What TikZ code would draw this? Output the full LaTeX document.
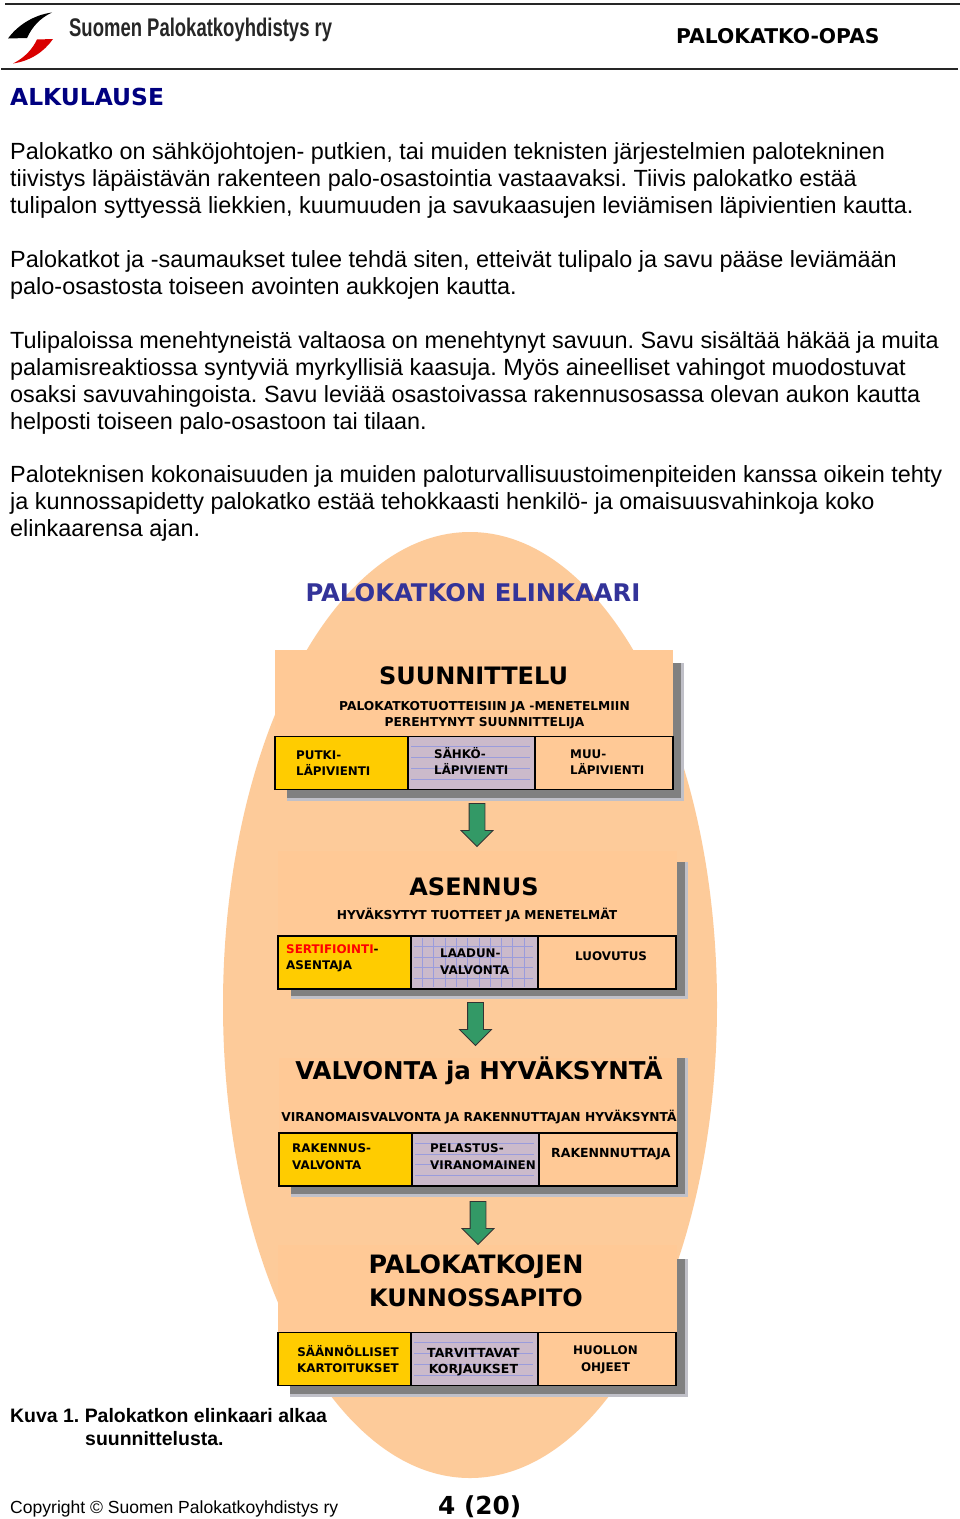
\documentclass[tikz,border=0pt]{standalone}
\usepackage{fontspec}
\setmainfont{Liberation Sans}
\newfontfamily\headfont{DejaVu Sans}
\usetikzlibrary{shapes.geometric, shapes.arrows, positioning}
\definecolor{peach}{HTML}{FFC996}
\definecolor{oval}{HTML}{FDCB9A}
\definecolor{gold}{HTML}{FFCC00}
\definecolor{lilac}{HTML}{CBBACB}
\definecolor{gridblue}{HTML}{9A9CDC}
\definecolor{shadowgray}{HTML}{808080}
\definecolor{shadowlight}{HTML}{C0C0C8}
\definecolor{arrowgreen}{HTML}{339966}
\tikzset{
bodytext/.style={anchor=north west, inner sep=0pt, align=left,
font=\frenchspacing\fontsize{23.42}{27}\selectfont},
title/.style={inner sep=0pt, align=center, font=\headfont\bfseries\fontsize{24}{33}\selectfont},
subtitle/.style={inner sep=0pt, align=center, font=\headfont\bfseries\fontsize{12.25}{16.5}\selectfont},
celltext/.style={inner sep=0pt, align=left, font=\headfont\bfseries\fontsize{11.9}{16.5}\selectfont},
cell/.style={rectangle, anchor=north west, inner sep=0pt, outer sep=0pt, draw=black, line width=1.1pt, minimum height=53},
goldcell/.style={cell, fill=gold, minimum width=133},
gridcell/.style={cell, fill=lilac, minimum width=127},
plaincell/.style={cell, fill=peach, minimum width=138},
flow/.style={single arrow, shape border rotate=270, draw=black!80, fill=arrowgreen, line width=0.8pt,
minimum width=31, minimum height=43, single arrow head extend=8, single arrow tip angle=90, inner sep=7.5pt}
}
% back of a panel: grey shadow with light edge
\newcommand{\panelshadow}[4]{
\fill [shadowlight] (#1,#2) rectangle (#3+11,#4+11);
\fill [shadowgray] (#1,#2) rectangle (#3+8,#4+8);
}
\begin{document}
\begin{tikzpicture}[x=1pt, y=-1pt]
\useasboundingbox (0,0) rectangle (960,1519);
\fill [white] (0,0) rectangle (960,1519);

% page head
\draw [line width=1.3pt, black!85] (5,4) -- (960,4);
\draw [line width=1.3pt, black!85] (1,69) -- (958,69);
\fill [black] (52,12.5) .. controls (33,15) and (17,26) .. (8,38.5) -- (27,38) .. controls (32,27) and (40,18) .. (52,12.5) -- cycle;
\fill [red!85!black] (53,39) -- (37,39.5) .. controls (32,50) and (24,58) .. (13,63.5) .. controls (30,61) and (44,52) .. (53,39) -- cycle;
\node (logotext) [inner sep=0pt, anchor=west, xscale=.725, transform shape, font=\bfseries\fontsize{25.5}{30}\selectfont, black!85] at (69,30) {Suomen Palokatkoyhdistys ry};
\node (guide) [anchor=west, inner sep=0pt, font=\headfont\bfseries\fontsize{20.3}{24}\selectfont] at (676,36) {PALOKATKO-OPAS};
\node (chapter) [anchor=west, inner sep=0pt, text=blue!50!black, font=\headfont\bfseries\fontsize{23.4}{28}\selectfont] at (10,97) {ALKULAUSE};

% text
\node (para1) [bodytext] at (10,142) {Palokatko on sähköjohtojen- putkien, tai muiden teknisten järjestelmien palotekninen\\
tiivistys läpäistävän rakenteen palo-osastointia vastaavaksi. Tiivis palokatko estää\\
tulipalon syttyessä liekkien, kuumuuden ja savukaasujen leviämisen läpivientien kautta.};
\node (para2) [bodytext] at (10,250) {Palokatkot ja -saumaukset tulee tehdä siten, etteivät tulipalo ja savu pääse leviämään\\
palo-osastosta toiseen avointen aukkojen kautta.};
\node (para3) [bodytext] at (10,331) {Tulipaloissa menehtyneistä valtaosa on menehtynyt savuun. Savu sisältää häkää ja muita\\
palamisreaktiossa syntyviä myrkyllisiä kaasuja. Myös aineelliset vahingot muodostuvat\\
osaksi savuvahingoista. Savu leviää osastoivassa rakennusosassa olevan aukon kautta\\
helposti toiseen palo-osastoon tai tilaan.};
\node (para4) [bodytext] at (10,465) {Paloteknisen kokonaisuuden ja muiden paloturvallisuustoimenpiteiden kanssa oikein tehty\\
ja kunnossapidetty palokatko estää tehokkaasti henkilö- ja omaisuusvahinkoja koko\\
elinkaarensa ajan.};

% oval
\node (oval) [ellipse, fill=oval, inner sep=0pt, minimum width=494, minimum height=946] at (470,1005) {};
\node (cycle) [inner sep=0pt, text={rgb,255:red,51;green,51;blue,153}, font=\headfont\bfseries\fontsize{24.3}{28}\selectfont] at (473,593) {PALOKATKON ELINKAARI};

% shadows and panels
\panelshadow{287}{663}{673}{790}
\panelshadow{291}{862}{677}{988}
\panelshadow{291}{1058}{677}{1186}
\panelshadow{290}{1259}{677}{1386}
\fill [peach] (275,650) rectangle (673,736);
\fill [peach] (278,851) rectangle (677,936);
\fill [peach] (279,1058) rectangle (677,1133);
\fill [peach] (278,1245) rectangle (677,1332);

% rows of cells
\node (pipe) [goldcell] at (275,736.5) {};
\node (cable) [gridcell, right=0pt of pipe] {};
\node (other) [plaincell, right=0pt of cable] {};
\node (fitter) [goldcell] at (278,936) {};
\node (quality) [gridcell, right=0pt of fitter] {};
\node (handover) [plaincell, right=0pt of quality] {};
\node (building) [goldcell] at (279,1133) {};
\node (rescue) [gridcell, right=0pt of building] {};
\node (client) [plaincell, right=0pt of rescue] {};
\node (surveys) [goldcell] at (278,1332.5) {};
\node (repairs) [gridcell, right=0pt of surveys] {};
\node (service) [plaincell, right=0pt of repairs] {};

% grid lines of the middle cells
\foreach \c in {cable, quality, rescue, repairs}
\foreach \i in {1,...,4}
\draw [gridblue, line width=.5pt] ([xshift=3pt,yshift=\i*10.7pt]\c.south west) -- ([xshift=-5pt,yshift=\i*10.7pt]\c.south east);
\foreach \i in {1,...,10}
\draw [gridblue, line width=.5pt] ([xshift=\i*11.3pt,yshift=-2pt]quality.north west) -- ([xshift=\i*11.3pt,yshift=2pt]quality.south west);

% texts of the panels
\node (plan) [title] at (473.5,676) {SUUNNITTELU};
\node (planSub) [subtitle] at (484.5,715) {PALOKATKOTUOTTEISIIN JA -MENETELMIIN\\PEREHTYNYT SUUNNITTELIJA};
\node (pipeText) [celltext, right=21pt of pipe.west] {PUTKI-\\LÄPIVIENTI};
\node (cableText) [celltext, right=26pt of cable.west, yshift=2pt] {SÄHKÖ-\\LÄPIVIENTI};
\node (otherText) [celltext, right=35pt of other.west, yshift=1pt] {MUU-\\LÄPIVIENTI};

\node (install) [title] at (474,887) {ASENNUS};
\node (installSub) [subtitle] at (477,915) {HYVÄKSYTYT TUOTTEET JA MENETELMÄT};
\node (fitterText) [celltext, right=8pt of fitter.west, yshift=4pt] {\textcolor{red}{SERTIFIOINTI}-\\ASENTAJA};
\node (qualityText) [celltext, right=29pt of quality.west, yshift=1pt] {LAADUN-\\VALVONTA};
\node (handoverText) [celltext, right=37pt of handover.west, yshift=6pt] {LUOVUTUS};

\node (control) [title, font=\headfont\bfseries\fontsize{24.5}{33}\selectfont] at (479,1071) {VALVONTA ja HYVÄKSYNTÄ};
\node (controlSub) [subtitle] at (479,1117) {VIRANOMAISVALVONTA JA RAKENNUTTAJAN HYVÄKSYNTÄ};
\node (buildingText) [celltext, right=13pt of building.west, yshift=3pt] {RAKENNUS-\\VALVONTA};
\node (rescueText) [celltext, right=18pt of rescue.west, yshift=3pt] {PELASTUS-\\VIRANOMAINEN};
\node (clientText) [celltext, right=12pt of client.west, yshift=5pt, font=\headfont\bfseries\fontsize{12.5}{16.5}\selectfont] {RAKENNNUTTAJA};

\node (upkeep) [title] at (476,1281) {{\fontsize{25.3}{33}\selectfont PALOKATKOJEN}\\KUNNOSSAPITO};
\node (surveysText) [celltext, align=center, right=19pt of surveys.west] {SÄÄNNÖLLISET\\KARTOITUKSET};
\node (repairsText) [celltext, align=center, right=16pt of repairs.west, yshift=-3pt, font=\headfont\bfseries\fontsize{12.5}{16.5}\selectfont] {TARVITTAVAT\\KORJAUKSET};
\node (serviceText) [celltext, align=center, right=35pt of service.west, yshift=-1pt] {HUOLLON\\OHJEET};

% arrows between the panels
\node (flow1) [flow] at (477,821) {};
\node (flow2) [flow] at (475.5,1020) {};
\node (flow3) [flow] at (478,1219) {};

% caption and foot
\node (caption) [anchor=north west, inner sep=0pt, align=left, font=\frenchspacing\bfseries\fontsize{19.45}{23}\selectfont] at (10,1408) {Kuva 1. Palokatkon elinkaari alkaa\\\hspace*{75pt}suunnittelusta.};
\node (copyright) [anchor=west, inner sep=0pt, font=\fontsize{17.55}{22}\selectfont] at (10,1509) {Copyright © Suomen Palokatkoyhdistys ry};
\node (pageno) [anchor=west, inner sep=0pt, font=\headfont\bfseries\fontsize{24.8}{28}\selectfont] at (438,1507) {4 (20)};
\end{tikzpicture}
\end{document}
